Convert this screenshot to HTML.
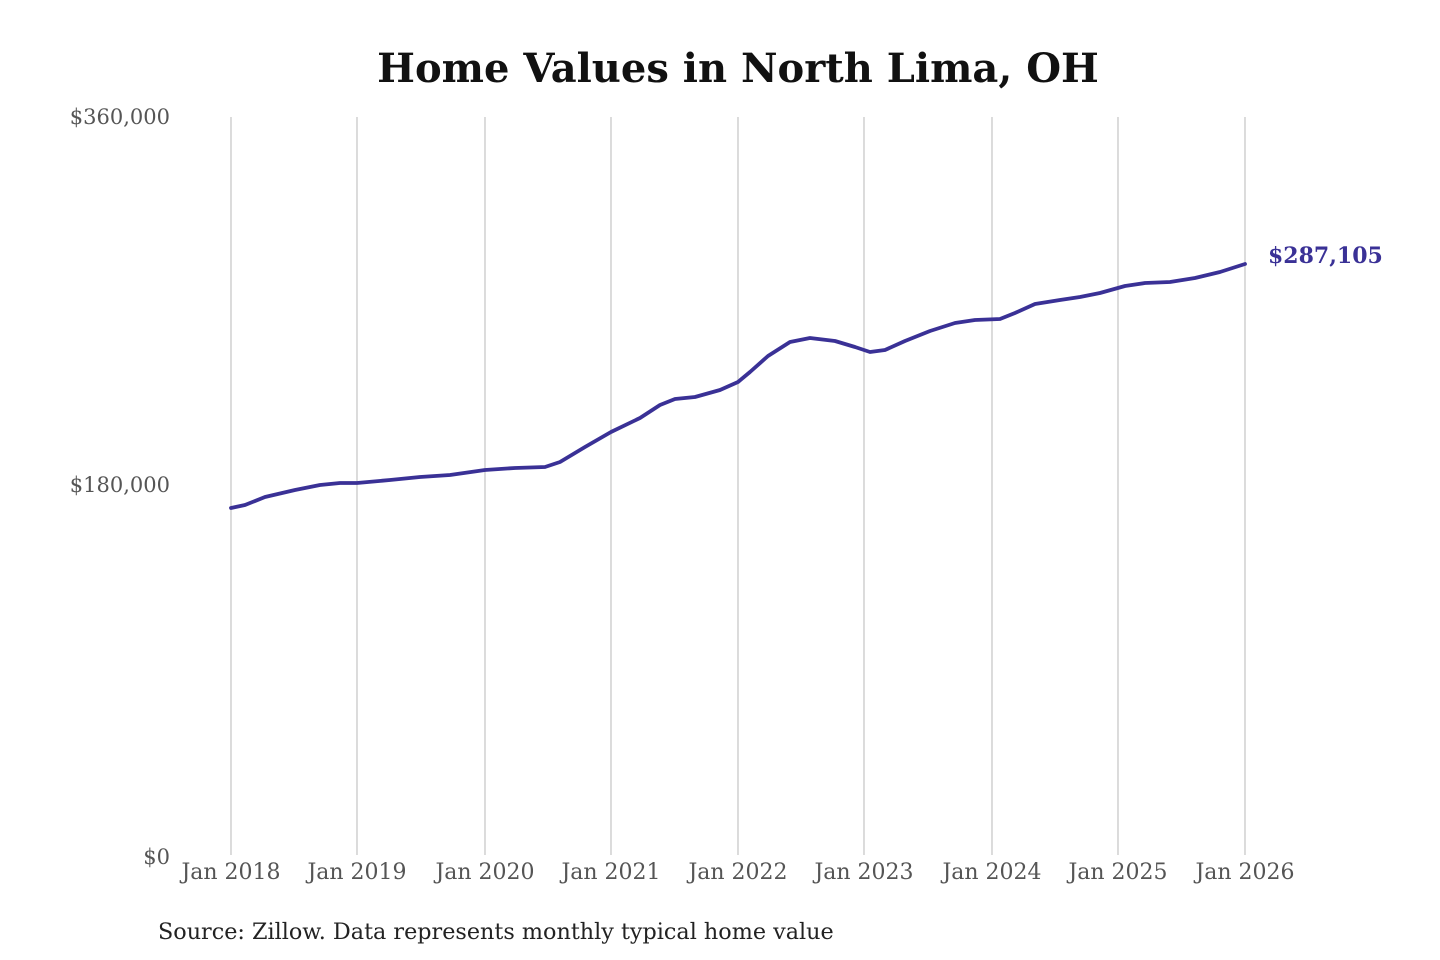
<!DOCTYPE html>
<html><head><meta charset="utf-8"><style>
html,body{margin:0;padding:0;background:#fff;}
svg{display:block;}
text{font-family:"DejaVu Serif","Liberation Serif",serif;}
</style></head><body>
<svg width="1440" height="960" xmlns="http://www.w3.org/2000/svg">
<rect width="1440" height="960" fill="#fff"/>
<text x="738" y="82" text-anchor="middle" font-size="40" font-weight="bold" fill="#111">Home Values in North Lima, OH</text>
<g stroke="#c8c8c8" stroke-width="1.3">
<line x1="231" y1="117" x2="231" y2="855"/>
<line x1="357" y1="117" x2="357" y2="855"/>
<line x1="485" y1="117" x2="485" y2="855"/>
<line x1="611" y1="117" x2="611" y2="855"/>
<line x1="738" y1="117" x2="738" y2="855"/>
<line x1="864" y1="117" x2="864" y2="855"/>
<line x1="992" y1="117" x2="992" y2="855"/>
<line x1="1118" y1="117" x2="1118" y2="855"/>
<line x1="1245" y1="117" x2="1245" y2="855"/>
</g>
<g font-size="21" fill="#555" text-anchor="end">
<text x="170" y="124">$360,000</text>
<text x="170" y="492">$180,000</text>
<text x="170" y="864">$0</text>
</g>
<g font-size="22" fill="#555" text-anchor="middle">
<text x="231" y="879">Jan 2018</text>
<text x="357" y="879">Jan 2019</text>
<text x="485" y="879">Jan 2020</text>
<text x="611" y="879">Jan 2021</text>
<text x="738" y="879">Jan 2022</text>
<text x="864" y="879">Jan 2023</text>
<text x="992" y="879">Jan 2024</text>
<text x="1118" y="879">Jan 2025</text>
<text x="1245" y="879">Jan 2026</text>
</g>
<polyline fill="none" stroke="#3a3196" stroke-width="3.8" stroke-linejoin="round" stroke-linecap="round"
points="231,508 245,505 265,497 295,490 320,485 340,483 357,483 390,480 420,477 450,475 485,470 515,468 545,467 560,462 585,447 611,432 640,418 660,405 675,399 695,397 720,390 738,382 750,372 768,356 790,342 810,338 835,341 855,347 870,352 885,350 905,341 930,331 955,323 975,320 1000,319 1015,313 1035,304 1060,300 1080,297 1100,293 1125,286 1145,283 1170,282 1195,278 1220,272 1245,264"/>
<text x="1268" y="263" font-size="22" font-weight="bold" fill="#3a3196">$287,105</text>
<text x="158" y="939" font-size="22.3" fill="#222">Source: Zillow. Data represents monthly typical home value</text>
</svg>
</body></html>
